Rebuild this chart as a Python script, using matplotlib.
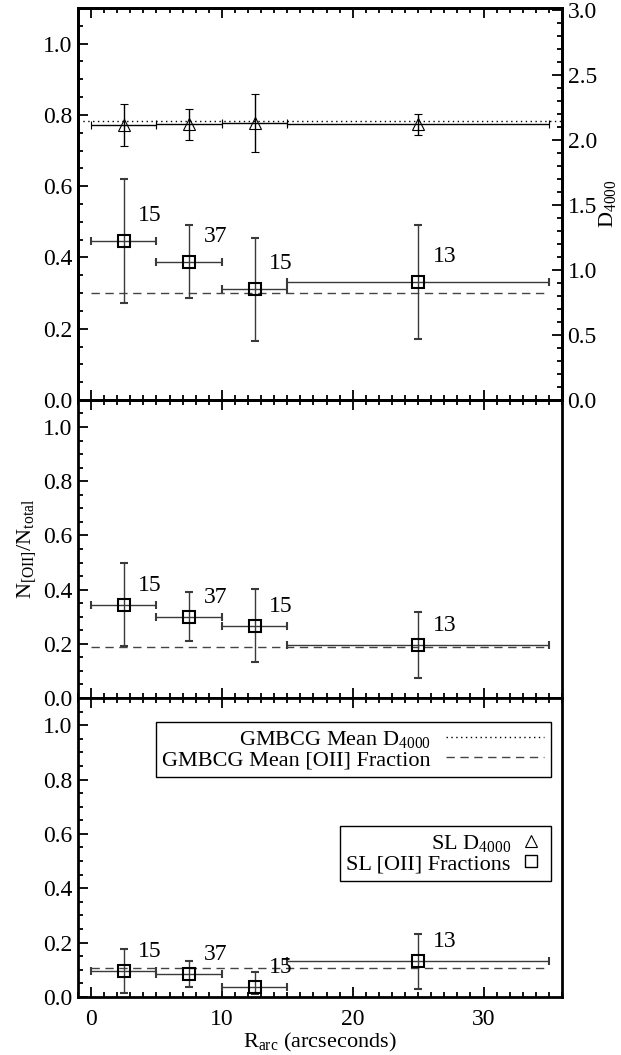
# SL cluster arcs: [OII] fraction and D4000 vs arc radius
import numpy as np
import matplotlib.pyplot as plt
from matplotlib.lines import Line2D
from matplotlib.ticker import MultipleLocator

plt.rcParams['font.family'] = 'Liberation Serif'
plt.rcParams['mathtext.fontset'] = 'custom'
plt.rcParams['mathtext.rm'] = 'Liberation Serif'
plt.rcParams['mathtext.it'] = 'Liberation Serif:italic'
plt.rcParams['font.size'] = 16

# Radial bins (arcsec)
r_mid = [2.5, 7.5, 12.5, 25.0]
r_half = [2.5, 2.5, 2.5, 10.0]
n_gal = [15, 37, 15, 13]

# D4000 of the SL sample (top panel, right axis)
d4000 = [2.115, 2.12, 2.13, 2.12]
d4000_err = [0.165, 0.12, 0.225, 0.08]
d4000_mean = 2.146

# [OII] fractions, one list per panel
frac_top = [0.446, 0.388, 0.310, 0.332]
frac_top_err = [0.173, 0.102, 0.145, 0.16]
frac_mid = [0.345, 0.300, 0.267, 0.195]
frac_mid_err = [0.153, 0.09, 0.134, 0.123]
frac_bot = [0.094, 0.084, 0.038, 0.131]
frac_bot_lo = [0.081, 0.049, 0.027, 0.101]
frac_bot_hi = [0.081, 0.049, 0.053, 0.101]
frac_mean = [0.299, 0.187, 0.108]

fig = plt.figure(figsize=(6.21, 10.55), dpi=100)
ax_top = fig.add_axes([0.1256, 0.6209, 0.7794, 0.3715])
ax_mid = fig.add_axes([0.1256, 0.3384, 0.7794, 0.2825])
ax_bot = fig.add_axes([0.1256, 0.0550, 0.7794, 0.2834])

def style_axis(ax):
    ax.set_xlim(-1, 36)
    ax.set_ylim(0, 1.1)
    ax.xaxis.set_major_locator(MultipleLocator(10))
    ax.xaxis.set_minor_locator(MultipleLocator(1))
    ax.yaxis.set_major_locator(MultipleLocator(0.2))
    ax.yaxis.set_minor_locator(MultipleLocator(0.05))
    ax.yaxis.set_major_formatter('{x:.1f}')
    ax.tick_params(which='both', direction='in', top=True, width=1.3, pad=4, labelsize=17)
    ax.tick_params(which='major', length=7)
    ax.tick_params(which='minor', length=3.5)
    ax.tick_params(axis='x', pad=9)
    for s in ax.spines.values():
        s.set_linewidth(2)

def plot_frac(ax, y, yerr, mean):
    ax.plot([0, 35], [mean, mean], color='#444444', ls=(0, (6, 4)), lw=1)
    ax.errorbar(r_mid, y, xerr=r_half, yerr=yerr, fmt='s', ms=9, mfc='none',
                mec='black', mew=1.5, ecolor='#3a3a3a', elinewidth=1, capsize=3)
    for x, yy, n in zip(r_mid, y, n_gal):
        ax.text(x + 1.1, yy + 0.072, str(n), ha='left', va='center', fontsize=17)

for ax in (ax_top, ax_mid, ax_bot):
    style_axis(ax)

# top panel: D4000 on twin axis
ax_top.tick_params(right=False)
ax_d = ax_top.twinx()
ax_d.set_ylim(0, 3.015)
ax_d.yaxis.set_major_locator(MultipleLocator(0.5))
ax_d.yaxis.set_minor_locator(MultipleLocator(0.1))
ax_d.yaxis.set_major_formatter('{x:.1f}')
ax_d.tick_params(which='both', direction='in', width=1.3, pad=4, labelsize=17)
ax_d.tick_params(which='major', length=7)
ax_d.tick_params(which='minor', length=3.5)
for s in ax_d.spines.values():
    s.set_linewidth(2)
ax_d.axhline(d4000_mean, color='black', ls=(0, (1, 2.5)), lw=1)
ax_d.errorbar(r_mid, d4000, xerr=r_half, yerr=d4000_err, fmt='^', ms=9, mfc='none',
              mec='black', mew=0.8, ecolor='black', elinewidth=1, capsize=3)
ax_d.set_ylabel('D$_{4000}$', fontsize=16, labelpad=0)

plot_frac(ax_top, frac_top, frac_top_err, frac_mean[0])
plot_frac(ax_mid, frac_mid, frac_mid_err, frac_mean[1])
plot_frac(ax_bot, frac_bot, [frac_bot_lo, frac_bot_hi], frac_mean[2])

ax_top.tick_params(labelbottom=False)
ax_mid.tick_params(labelbottom=False)
ax_mid.set_ylabel('N$_{\\rm [OII]}$/N$_{\\rm total}$', fontsize=16, labelpad=4)
ax_bot.set_xlabel('R$_{\\rm arc}$ (arcseconds)', fontsize=16, labelpad=0)

# legends
h1 = [Line2D([], [], color='black', ls=(0, (1, 2.5)), lw=1),
      Line2D([], [], color='#444444', ls=(0, (6, 4)), lw=1)]
leg1 = ax_bot.legend(h1, ['GMBCG Mean D$_{4000}$', 'GMBCG Mean [OII] Fraction'],
                     loc='upper right', bbox_to_anchor=(0.977, 0.92), markerfirst=False,
                     fancybox=False, edgecolor='black', framealpha=1, borderpad=0.3,
                     labelspacing=0.0, handlelength=4.4, handletextpad=0.7,
                     borderaxespad=0, fontsize=16)
leg1.get_frame().set_linewidth(1)
ax_bot.add_artist(leg1)

h2 = [Line2D([], [], ls='none', marker='^', ms=9, mfc='none', mec='black', mew=0.8),
      Line2D([], [], ls='none', marker='s', ms=9, mfc='none', mec='black', mew=1)]
leg2 = ax_bot.legend(h2, ['SL D$_{4000}$', 'SL [OII] Fractions'],
                     loc='upper right', bbox_to_anchor=(0.977, 0.572), markerfirst=False,
                     fancybox=False, edgecolor='black', framealpha=1, borderpad=0.3,
                     labelspacing=0.0, handlelength=1.2, handletextpad=0.3,
                     borderaxespad=0, fontsize=16)
leg2.get_frame().set_linewidth(1)

plt.savefig('out.png', dpi=100)
